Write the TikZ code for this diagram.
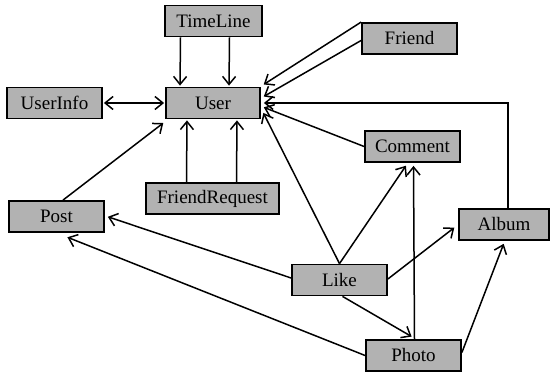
\documentclass[tikz,border=0pt]{standalone}
\usepackage{fontspec}
\setmainfont{Liberation Serif}
\usetikzlibrary{arrows.meta}
\tikzset{
  entity/.style={draw, line width=1.8pt, fill=black!30, minimum width=95pt,
    minimum height=31pt, inner sep=0pt, font=\fontsize{19}{22}\selectfont},
  link/.style={line width=1.5pt, -{Straight Barb[length=8pt,width=13pt]}, shorten >=1pt}
}
\begin{document}
\begin{tikzpicture}[x=1pt,y=1pt]
  \useasboundingbox (0,0) rectangle (552,374);

  % entities
  \node[entity, minimum width=97pt] (TimeLine) at (213.5,353) {TimeLine};
  \node[entity, minimum width=94pt] (User) at (213,271) {User};
  \node[entity] (UserInfo) at (54.5,271) {UserInfo};
  \node[entity] (Friend) at (409.5,335.5) {Friend};
  \node[entity] (Comment) at (412.5,227.5) {Comment};
  \node[entity, minimum width=133pt] (FriendRequest) at (212.5,175.5) {FriendRequest};
  \node[entity] (Post) at (56.5,157.5) {Post};
  \node[entity, minimum width=90pt] (Album) at (504,149.5) {Album};
  \node[entity] (Like) at (339.5,94) {Like};
  \node[entity] (Photo) at (413.5,18.5) {Photo};

  % links into User
  \draw[link] ([xshift=-33pt]TimeLine.south) -- ([xshift=-33pt]User.north);
  \draw[link] ([xshift=16pt]TimeLine.south) -- ([xshift=16pt]User.north);
  \draw[link, {Straight Barb[length=8pt,width=13pt]}-{Straight Barb[length=8pt,width=13pt]}, shorten <=1pt] (UserInfo) -- (User);
  \draw[link] (Friend.north west) -- ([shift={(2pt,18pt)}]User.east);
  \draw[link] ([yshift=-2pt]Friend.west) -- ([shift={(2pt,6pt)}]User.east);
  \draw[link] ([xshift=4pt]Album.north) |- ([xshift=2pt]User.east);
  \draw[link] (Comment.west) -- ([shift={(2pt,-4pt)}]User.east);
  \draw[link] (Like.north) -- ([shift={(2pt,-9pt)}]User.east);
  \draw[link] ([xshift=6.5pt]Post.north) -- ([shift={(-1pt,-3pt)}]User.south west);
  \draw[link] ([xshift=-26pt]FriendRequest.north) -- ([xshift=-26pt]User.south);
  \draw[link] ([xshift=24pt]FriendRequest.north) -- ([xshift=24pt]User.south);

  % other links
  \draw[link] ([yshift=2pt]Like.west) -- ([xshift=2pt]Post.east);
  \draw[link] (Photo.west) -- ([shift={(10pt,-4pt)}]Post.south);
  \draw[link] (Like.north) -- ([shift={(-6pt,-2pt)}]Comment.south);
  \draw[link] ([xshift=1pt]Photo.north) -- ([shift={(1pt,-2pt)}]Comment.south);
  \draw[link] ([yshift=1pt]Like.east) -- ([shift={(-3pt,-2.5pt)}]Album.west);
  \draw[link] ([xshift=3pt]Like.south) -- ([shift={(-1pt,2pt)}]Photo.north);
  \draw[link] ([yshift=3pt]Photo.east) -- ([yshift=-2pt]Album.south);
\end{tikzpicture}
\end{document}
